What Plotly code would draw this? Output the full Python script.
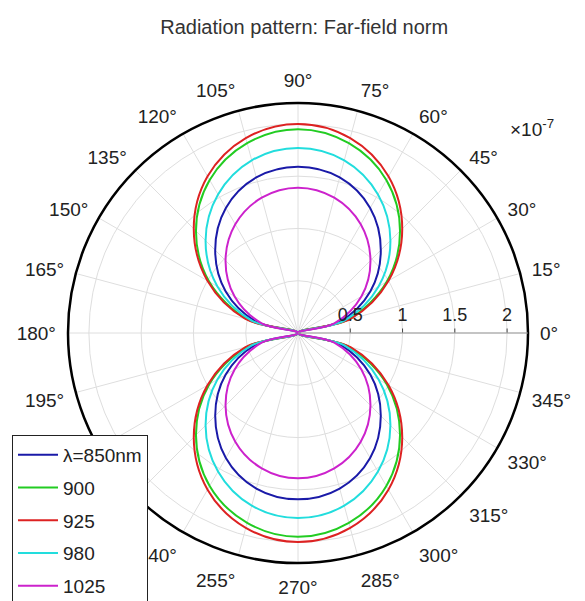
import plotly.graph_objects as go

# Angles (degrees) sampled every 15°
theta_deg = [0, 15, 30, 45, 60, 75, 90, 105, 120, 135, 150, 165, 180,
             195, 210, 225, 240, 255, 270, 285, 300, 315, 330, 345, 360]

# Far-field norm (x 1e-7)
r_850 = [0, 0.41, 0.80, 1.12, 1.38, 1.54, 1.59, 1.54, 1.38, 1.12, 0.80, 0.41, 0,
         0.41, 0.80, 1.12, 1.38, 1.54, 1.59, 1.54, 1.38, 1.12, 0.80, 0.41, 0]
r_900 = [0, 0.50, 0.98, 1.38, 1.69, 1.88, 1.95, 1.88, 1.69, 1.38, 0.98, 0.50, 0,
         0.50, 0.98, 1.38, 1.69, 1.88, 1.95, 1.88, 1.69, 1.38, 0.98, 0.50, 0]
r_925 = [0, 0.52, 1.00, 1.41, 1.73, 1.93, 2.00, 1.93, 1.73, 1.41, 1.00, 0.52, 0,
         0.52, 1.00, 1.41, 1.73, 1.93, 2.00, 1.93, 1.73, 1.41, 1.00, 0.52, 0]
r_980 = [0, 0.46, 0.89, 1.25, 1.53, 1.71, 1.77, 1.71, 1.53, 1.25, 0.89, 0.46, 0,
         0.46, 0.89, 1.25, 1.53, 1.71, 1.77, 1.71, 1.53, 1.25, 0.89, 0.46, 0]
r_1025 = [0, 0.36, 0.70, 0.98, 1.20, 1.34, 1.39, 1.34, 1.20, 0.98, 0.70, 0.36, 0,
          0.36, 0.70, 0.98, 1.20, 1.34, 1.39, 1.34, 1.20, 0.98, 0.70, 0.36, 0]

series_names = ["λ=850nm", "900", "925", "980", "1025"]
series_values = [r_850, r_900, r_925, r_980, r_1025]
series_colors = ["#1a1aa8", "#22cc22", "#dd2222", "#22dddd", "#cc22cc"]

radial_ticks = [0.5, 1, 1.5, 2]
radial_ticktext = ["0.5", "1", "1.5", "2"]
angular_ticks = list(range(0, 360, 15))
angular_ticktext = [f"{a}°" for a in angular_ticks]

W, H = 585, 601
cx, cy, R = 298, 333, 230

fig = go.Figure()
for i, (name, r, color) in enumerate(zip(series_names, series_values, series_colors)):
    fig.add_trace(go.Scatterpolar(
        r=r, theta=theta_deg, mode="lines", name=name,
        legendgroup=f"g{i}",
        line=dict(color=color, width=2, shape="spline"),
    ))

font_family = "Liberation Sans, Arial, sans-serif"
fig.update_layout(
    width=W, height=H,
    margin=dict(l=0, r=0, t=0, b=0, autoexpand=False),
    paper_bgcolor="white",
    font=dict(family=font_family, color="#222"),
    title=dict(text="Radiation pattern: Far-field norm", x=0.52, y=1 - 27 / H,
               xanchor="center", yanchor="middle",
               font=dict(family=font_family, size=20, color="#333")),
    polar=dict(
        domain=dict(x=[(cx - R) / W, (cx + R) / W],
                    y=[(H - cy - R) / H, (H - cy + R) / H]),
        bgcolor="white",
        radialaxis=dict(range=[0, 2.2], tickmode="array", tickvals=radial_ticks,
                        ticktext=radial_ticktext, angle=0, side="counterclockwise",
                        showline=True, linecolor="#999", linewidth=1,
                        gridcolor="#dedede", gridwidth=1,
                        ticks="outside", ticklen=4, tickcolor="#444",
                        tickfont=dict(size=18, color="#222")),
        angularaxis=dict(tickmode="array", tickvals=angular_ticks,
                         ticktext=angular_ticktext, direction="counterclockwise",
                         rotation=0, showline=True, linecolor="black", linewidth=2.5,
                         gridcolor="#dedede", gridwidth=1,
                         ticks="outside", ticklen=7, tickcolor="rgba(0,0,0,0)",
                         tickfont=dict(size=19, color="#222")),
    ),
    legend=dict(x=12 / W, y=1 - 435 / H, xanchor="left", yanchor="top",
                bordercolor="#222", borderwidth=1, bgcolor="white",
                font=dict(size=19, color="#222"), tracegroupgap=5,
                traceorder="grouped", itemwidth=40),
    showlegend=True,
    annotations=[dict(text="×10<sup>-7</sup>", x=508 / W, y=1 - 128 / H,
                      xref="paper", yref="paper", xanchor="left", yanchor="middle",
                      showarrow=False, font=dict(size=19, color="#222"))],
)

fig.write_html("out.html")
